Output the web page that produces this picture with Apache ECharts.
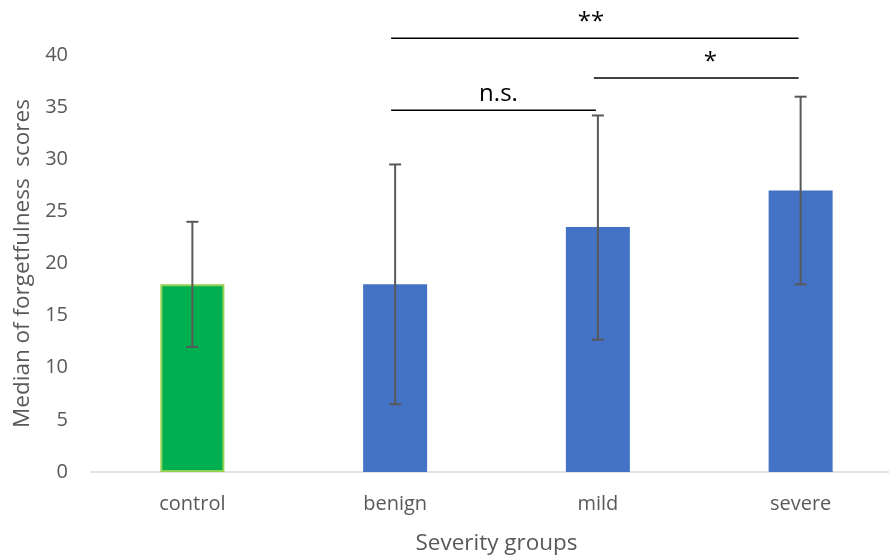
<!DOCTYPE html>
<html>
<head>
<meta charset="utf-8">
<script src="https://cdn.jsdelivr.net/npm/echarts@6/dist/echarts.min.js"></script>
<style>html,body{margin:0;padding:0;background:#fff}#c{width:889px;height:556px}</style>
</head>
<body>
<div id="c"></div>
<script>
var categories = ['control', 'benign', 'mild', 'severe'];
var medians = [18, 18, 23.5, 27];
var errLow = [12, 6.5, 12.7, 18];
var errHigh = [24, 29.5, 34.2, 36];
var barColors = ['#00B050', '#4472C4', '#4472C4', '#4472C4'];
var barBorders = ['#92D050', '#4472C4', '#4472C4', '#4472C4'];
var yTicks = [0, 5, 10, 15, 20, 25, 30, 35, 40];

var sigFrom = [1, 2, 1];
var sigTo = [2, 3, 3];
var sigLevel = [34.7, 37.8, 41.6];
var sigLabel = ['n.s.', '*', '**'];

var FONT = "'Open Sans', 'Noto Sans', sans-serif";
var chart = echarts.init(document.getElementById('c'));

var barData = medians.map(function (v, i) {
  return { value: v, itemStyle: { color: barColors[i], borderColor: barBorders[i], borderWidth: i === 0 ? 2 : 0 } };
});
var errData = categories.map(function (c, i) { return [i, errLow[i], errHigh[i]]; });
var sigData = sigFrom.map(function (f, i) { return [f, sigTo[i], sigLevel[i], sigLabel[i]]; });
var labelShift = { 'n.s.': 2, '*': 11, '**': -7 };

chart.setOption({
  animation: false,
  backgroundColor: '#fff',
  grid: { left: 91, top: 55, width: 811, height: 417, containLabel: false, outerBoundsMode: 'none' },
  xAxis: {
    type: 'category',
    data: categories,
    axisLine: { lineStyle: { color: '#D9D9D9', width: 1.5 } },
    axisTick: { show: false },
    axisLabel: { color: '#595959', fontSize: 20, fontFamily: FONT, margin: 22 },
    name: 'Severity groups',
    nameLocation: 'middle',
    nameGap: 60,
    nameTextStyle: { color: '#595959', fontSize: 22.5, fontFamily: FONT }
  },
  yAxis: {
    type: 'value',
    min: 0, max: 40, interval: 5,
    axisLine: { show: false },
    axisTick: { show: false },
    splitLine: { show: false },
    axisLabel: { color: '#595959', fontSize: 20, fontFamily: FONT, margin: 23,
      formatter: function (v) { return yTicks.indexOf(v) >= 0 ? String(v) : ''; } },
    name: 'Median of forgetfulness  scores',
    nameLocation: 'middle',
    nameGap: 55,
    nameRotate: 90,
    nameTextStyle: { color: '#595959', fontSize: 22.5, fontFamily: FONT }
  },
  series: [
    { type: 'bar', data: barData, barWidth: 64 },
    {
      type: 'custom', data: errData, clip: false, z: 5,
      renderItem: function (params, api) {
        var x = api.value(0);
        var lo = api.coord([x, api.value(1)]);
        var hi = api.coord([x, api.value(2)]);
        var cap = 6;
        var st = { stroke: '#595959', lineWidth: 2 };
        return { type: 'group', children: [
          { type: 'line', shape: { x1: lo[0], y1: lo[1], x2: hi[0], y2: hi[1] }, style: st },
          { type: 'line', shape: { x1: lo[0] - cap, y1: lo[1], x2: lo[0] + cap, y2: lo[1] }, style: st },
          { type: 'line', shape: { x1: hi[0] - cap, y1: hi[1], x2: hi[0] + cap, y2: hi[1] }, style: st }
        ]};
      }
    },
    {
      type: 'custom', data: sigData, clip: false, z: 6,
      encode: { x: [0, 1], y: 2 },
      renderItem: function (params, api) {
        var a = api.coord([api.value(0), api.value(2)]);
        var b = api.coord([api.value(1), api.value(2)]);
        var lab = sigData[params.dataIndex][3];
        return { type: 'group', children: [
          { type: 'line', shape: { x1: a[0] - 4, y1: a[1], x2: b[0] - 2, y2: b[1] }, style: { stroke: '#000', lineWidth: 1.5 } },
          { type: 'text', style: { text: lab, x: (a[0] + b[0]) / 2 + (labelShift[lab] || 0), y: a[1] - 4, align: 'center', verticalAlign: 'bottom',
              fill: '#000', fontSize: 24, fontFamily: FONT } }
        ]};
      }
    }
  ]
});
</script>
</body>
</html>
